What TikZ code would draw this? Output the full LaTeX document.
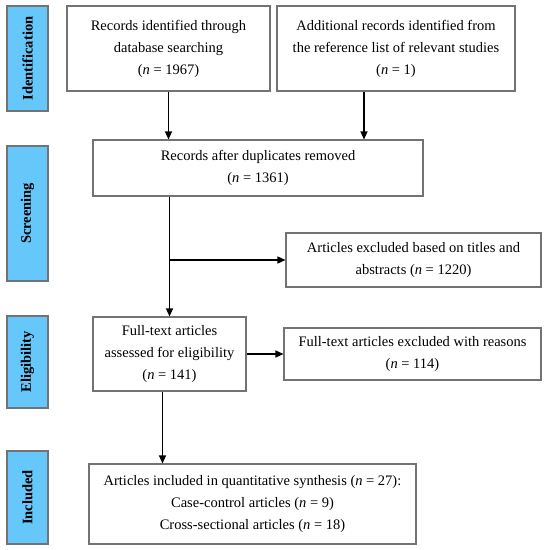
\documentclass[tikz,border=0pt]{standalone}
\usepackage{fontspec}
\setmainfont{Liberation Serif}
\usetikzlibrary{arrows.meta,positioning,calc}
\definecolor{stageblue}{RGB}{102,199,250}
\newcommand{\cnt}[1]{(\textit{n} = #1)}

\begin{document}
\begin{tikzpicture}[x=1pt,y=-1pt,>={Triangle[length=8pt,width=7pt]},
 box/.style={draw=black!55,line width=1.1pt,align=center,inner sep=0pt,
  font=\fontsize{14.5}{22}\selectfont},
 stage/.style={draw=black!55,line width=1.1pt,fill=stageblue,rotate=90,inner sep=0pt,
  minimum height=41pt,font=\fontsize{14.5}{16}\selectfont\bfseries},
 arr/.style={->,line width=1.4pt}]
\useasboundingbox (0,0) rectangle (548,550);
% stages
\node[stage,minimum width=105pt] (ident) at (27.5,58.5) {Identification};
\node[stage,minimum width=135pt] (screen) at (27.5,213.5) {Screening};
\node[stage,minimum width=92pt] (elig) at (27.5,362) {Eligibility};
\node[stage,minimum width=93pt] (incl) at (27.5,497.5) {Included};
% boxes
\node[box,minimum width=203pt,minimum height=85pt] (db) at (168.5,48.5)
 {Records identified through\\database searching\\\cnt{1967}};
\node[box,minimum width=238pt,minimum height=85pt] (extra) at (396,48.5)
 {Additional records identified from\\the reference list of relevant studies\\\cnt{1}};
\node[box,minimum width=330pt,minimum height=56pt] (dup) at (258,168)
 {Records after duplicates removed\\\cnt{1361}};
\node[box,minimum width=255pt,minimum height=54pt] (excl) at (413.5,260)
 {Articles excluded based on titles and\\abstracts \cnt{1220}};
\node[box,minimum width=153pt,minimum height=74pt] (full) at (169.5,354)
 {Full-text articles\\assessed for eligibility\\\cnt{141}};
\node[box,minimum width=257pt,minimum height=52pt] (fullexcl) at (412.5,354)
 {Full-text articles excluded with reasons\\\cnt{114}};
\node[box,minimum width=327pt,minimum height=80pt] (final) at (252.5,504)
 {Articles included in quantitative synthesis \cnt{27}:\\Case-control articles \cnt{9}\\Cross-sectional articles \cnt{18}};
% connectors
\coordinate (extraout) at ([xshift=-32pt]extra.south);
\coordinate (fullout) at ([xshift=-7pt]full.south);
\draw[arr] (db) -- (db |- dup.north);
\draw[arr] (extraout) -- (extraout |- dup.north);
\draw[arr] (full.north |- dup.south) -- (full);
\draw[arr] (full.north |- excl.west) -- (excl);
\draw[arr] (full) -- (fullexcl);
\draw[arr] (fullout) -- (fullout |- final.north);
\end{tikzpicture}
\end{document}
